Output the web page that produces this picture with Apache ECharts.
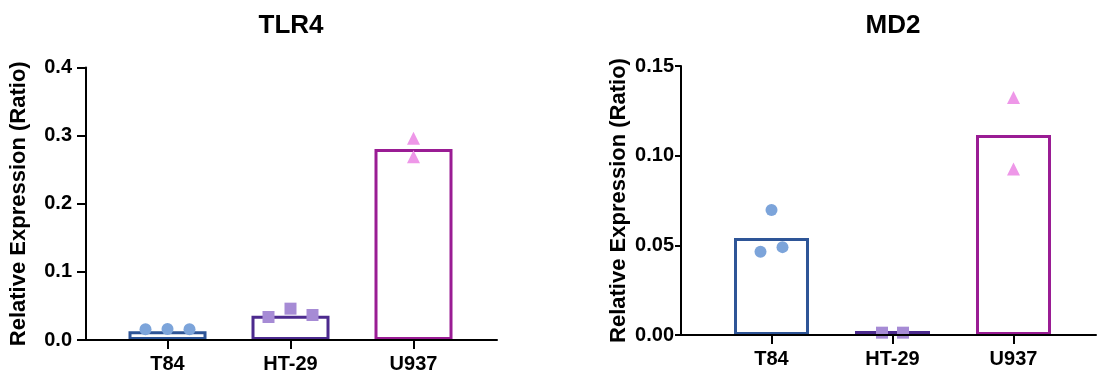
<!DOCTYPE html>
<html>
<head>
<meta charset="utf-8">
<script src="https://cdn.jsdelivr.net/npm/echarts@6/dist/echarts.min.js"></script>
<style>html,body{margin:0;padding:0;background:#fff}#c{width:1097px;height:381px}</style>
</head>
<body>
<div id="c"></div>
<script>
// ---- data ----
var categories = ['T84', 'HT-29', 'U937'];
var tlr4Means = [0.0127, 0.0357, 0.2805];
var tlr4T84 = [0.0157, 0.0160, 0.0157];
var tlr4HT29 = [0.0338, 0.0460, 0.0367];
var tlr4U937 = [0.2963, 0.2690];
var md2Means = [0.0541, 0.0022, 0.1115];
var md2T84 = [0.0464, 0.0697, 0.0490];
var md2HT29 = [0.0013, 0.0013];
var md2U937 = [0.1324, 0.0925];
var tlr4Ticks = ['0.0', '0.1', '0.2', '0.3', '0.4'];
var md2Ticks = ['0.00', '0.05', '0.10', '0.15'];
var titles = ['TLR4', 'MD2'];
var yTitle = 'Relative Expression (Ratio)';

// ---- styles ----
var FONT = 'Liberation Sans, Arial, Helvetica, sans-serif';
var barColors = ['#2E5597', '#4C2A8E', '#9A1C94'];
var ptColors = ['#7CA4DA', '#A68BD5', '#EE97E8'];

function pts(cat, vals, offsets, sym, color, size, xi, yi) {
  return {
    type: 'scatter', xAxisIndex: xi, yAxisIndex: yi, z: 5,
    symbol: sym, symbolSize: size,
    itemStyle: { color: color, opacity: 1 },
    data: vals.map(function (v, i) { return { value: [cat, v], symbolOffset: [offsets[i], 0] }; }),
    silent: true
  };
}
function bars(means, xi, yi, w) {
  return {
    type: 'bar', xAxisIndex: xi, yAxisIndex: yi, barWidth: w, z: 2,
    data: means.map(function (v, i) {
      return { value: v, itemStyle: { color: '#fff', borderColor: barColors[i], borderWidth: 3 } };
    }),
    silent: true
  };
}
var lbl = { color: '#000', fontFamily: FONT, fontWeight: 'bold', fontSize: 20 };
var nameStyle = { color: '#000', fontFamily: FONT, fontWeight: 'bold', fontSize: 22 };
var titleStyle = { fontFamily: FONT, fontWeight: 'bold', fontSize: 26, color: '#000' };

var chart = echarts.init(document.getElementById('c'));
chart.setOption({
  animation: false,
  title: [
    { text: titles[0], left: 286, top: 8, textAlign: 'center', textStyle: titleStyle },
    { text: titles[1], left: 888, top: 8, textAlign: 'center', textStyle: titleStyle }
  ],
  grid: [
    { left: 86, top: 67.5, width: 411, height: 272.5 },
    { left: 106, top: 67.5, width: 369, height: 272.5 },
    { left: 681, top: 66, width: 415, height: 269 },
    { left: 711, top: 66, width: 363, height: 269 }
  ],
  xAxis: [
    { gridIndex: 0, type: 'value', min: 0, max: 1, z: 10, axisLine: { show: true, lineStyle: { color: '#000', width: 2 } }, axisTick: { show: false }, axisLabel: { show: false }, splitLine: { show: false } },
    { gridIndex: 1, type: 'category', data: categories, axisLine: { show: false }, axisTick: { show: true, alignWithLabel: true, length: 9, lineStyle: { color: '#000', width: 2 } }, axisLabel: Object.assign({ margin: 14 }, lbl), splitLine: { show: false } },
    { gridIndex: 2, type: 'value', min: 0, max: 1, z: 10, axisLine: { show: true, lineStyle: { color: '#000', width: 2 } }, axisTick: { show: false }, axisLabel: { show: false }, splitLine: { show: false } },
    { gridIndex: 3, type: 'category', data: categories, axisLine: { show: false }, axisTick: { show: true, alignWithLabel: true, length: 9, lineStyle: { color: '#000', width: 2 } }, axisLabel: Object.assign({ margin: 14 }, lbl), splitLine: { show: false } }
  ],
  yAxis: [
    { gridIndex: 0, type: 'value', min: 0, max: 0.4, interval: 0.1,
      name: yTitle, nameLocation: 'middle', nameGap: 56, nameTextStyle: nameStyle,
      axisLine: { show: true, lineStyle: { color: '#000', width: 2 } }, axisTick: { show: true, length: 9, lineStyle: { color: '#000', width: 2 } },
      axisLabel: Object.assign({ margin: 14, formatter: function (v, i) { return tlr4Ticks[i]; } }, lbl), splitLine: { show: false } },
    { gridIndex: 1, type: 'value', min: 0, max: 0.4, show: false },
    { gridIndex: 2, type: 'value', min: 0, max: 0.15, interval: 0.05,
      name: yTitle, nameLocation: 'middle', nameGap: 51, nameTextStyle: nameStyle,
      axisLine: { show: true, lineStyle: { color: '#000', width: 2 } }, axisTick: { show: true, length: 6, lineStyle: { color: '#000', width: 2 } },
      axisLabel: Object.assign({ margin: 7, formatter: function (v, i) { return md2Ticks[i]; } }, lbl), splitLine: { show: false } },
    { gridIndex: 3, type: 'value', min: 0, max: 0.15, show: false }
  ],
  series: [
    bars(tlr4Means, 1, 1, 78),
    pts(categories[0], tlr4T84, [-22, 0, 22], 'circle', ptColors[0], 12, 1, 1),
    pts(categories[1], tlr4HT29, [-22, 0, 22], 'rect', ptColors[1], 12, 1, 1),
    pts(categories[2], tlr4U937, [0, 0], 'triangle', ptColors[2], 13, 1, 1),
    bars(md2Means, 3, 3, 75),
    pts(categories[0], md2T84, [-11, 0, 11], 'circle', ptColors[0], 12, 3, 3),
    pts(categories[1], md2HT29, [-10.5, 10.5], 'rect', ptColors[1], 12, 3, 3),
    pts(categories[2], md2U937, [0, 0], 'triangle', ptColors[2], 13, 3, 3)
  ]
});
</script>
</body>
</html>
